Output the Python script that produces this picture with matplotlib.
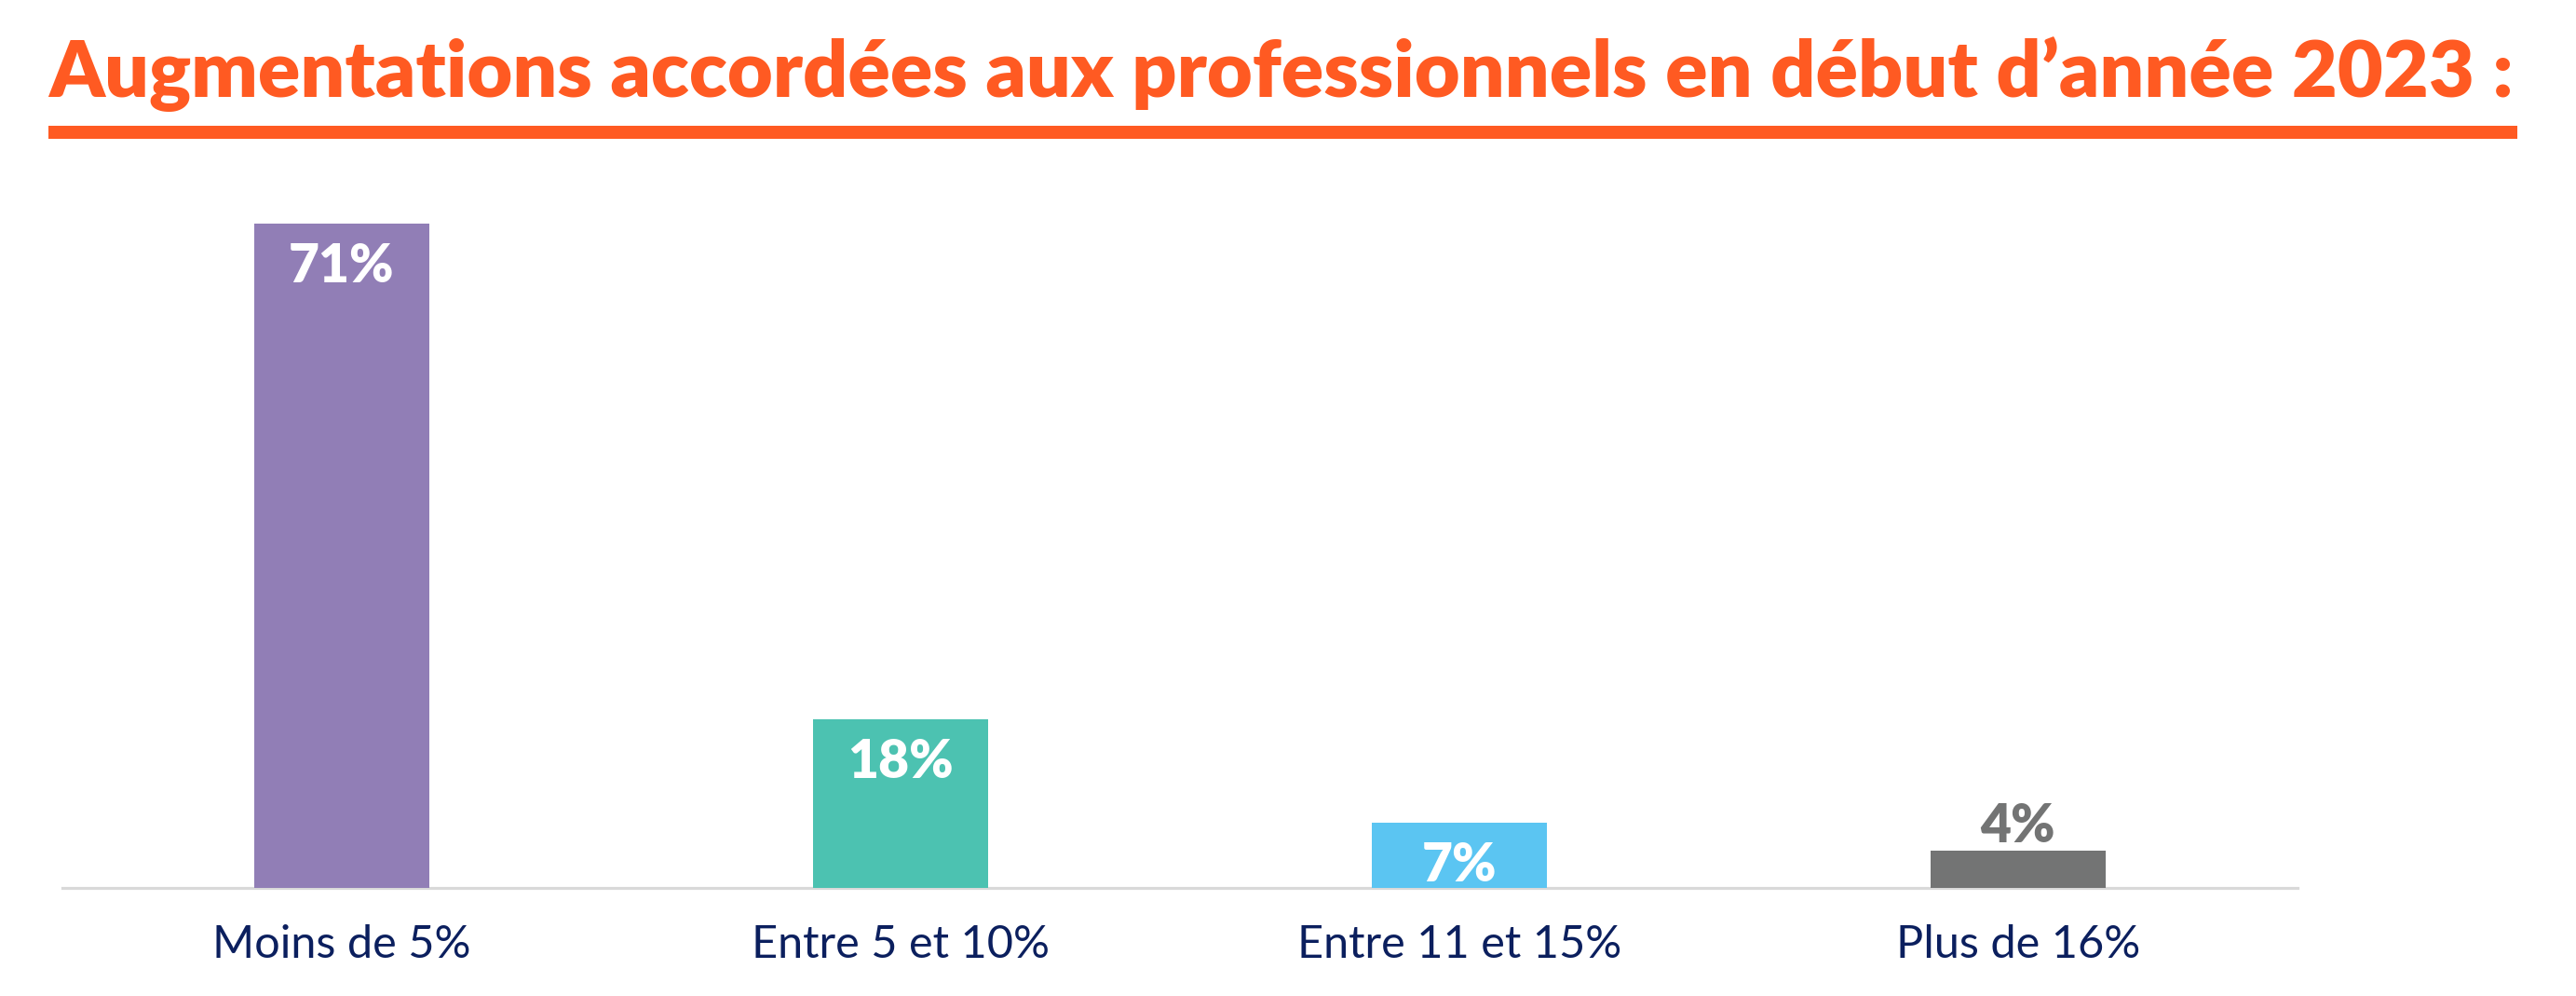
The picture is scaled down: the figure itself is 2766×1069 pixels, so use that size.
import matplotlib
matplotlib.use("Agg")
import matplotlib.pyplot as plt
from matplotlib.patches import Rectangle
from matplotlib.transforms import blended_transform_factory, offset_copy

# ---- data ----
title = "Augmentations accordées aux professionnels en début d’année 2023 :"
categories = ["Moins de 5%", "Entre 5 et 10%", "Entre 11 et 15%", "Plus de 16%"]
values = [71, 18, 7, 4]
value_labels = ["71%", "18%", "7%", "4%"]

# ---- style ----
bar_colors = ["#917EB6", "#4CC2B1", "#5BC5F2", "#737474"]
orange = "#FF5A22"
navy = "#0B1F5E"
W, H, DPI = 2766, 1069, 100

fig = plt.figure(figsize=(W / DPI, H / DPI), dpi=DPI)
fig.patch.set_facecolor("white")

def fx(px):
    return px / W

def fy(py_from_top):
    return 1 - py_from_top / H

ax_left, ax_right, ax_bottom, ax_top = 67, 2467, 953, 150
ax = fig.add_axes([fx(ax_left), fy(ax_bottom), fx(ax_right - ax_left), (ax_bottom - ax_top) / H])
x = list(range(len(categories)))
bars = ax.bar(x, values, width=0.312, color=bar_colors, zorder=2)
ax.set_xlim(-0.5, 3.5)
ax.set_ylim(0, 80)
for s in ["left", "right", "top"]:
    ax.spines[s].set_visible(False)
ax.spines["bottom"].set_color("#D9D9D9")
ax.spines["bottom"].set_linewidth(2.3)
ax.spines["bottom"].set_zorder(1)
ax.set_yticks([])
ax.set_xticks([])

# value labels
for xi, v, lab, col in zip(x, values, value_labels, bar_colors):
    if v >= 5:
        tr = offset_copy(ax.transData, fig=fig, x=0, y=-63 * 72 / DPI, units="points")
        ax.text(xi, v, lab, transform=tr, ha="center", va="baseline",
                color="white", fontsize=41, fontweight="heavy", family=["Lato", "DejaVu Sans"], zorder=3)
    else:
        tr = offset_copy(ax.transData, fig=fig, x=0, y=9 * 72 / DPI, units="points")
        ax.text(xi, v, lab, transform=tr, ha="center", va="baseline",
                color=col, fontsize=41, fontweight="heavy", family=["Lato", "DejaVu Sans"], zorder=3)

# category labels
blend = blended_transform_factory(ax.transData, fig.transFigure)
for xi, cat in zip(x, categories):
    ax.text(xi, fy(1028), cat, transform=blend, ha="center", va="baseline",
            color=navy, fontsize=35, family=["Lato", "DejaVu Sans"])

# title, fit to width
t = fig.text(fx(52), fy(104), title, ha="left", va="baseline", color=orange,
             fontsize=60, fontweight="heavy", family=["Lato", "DejaVu Sans"])
fig.canvas.draw()
r = fig.canvas.get_renderer()
wpx = t.get_window_extent(r).width
target = 2703 - 52
t.set_fontsize(60 * target / wpx)

# underline
fig.add_artist(Rectangle((fx(52), fy(149)), fx(2703 - 52), 14 / H,
                         transform=fig.transFigure, color=orange, lw=0))

fig.savefig("out.png", dpi=DPI, facecolor="white")
